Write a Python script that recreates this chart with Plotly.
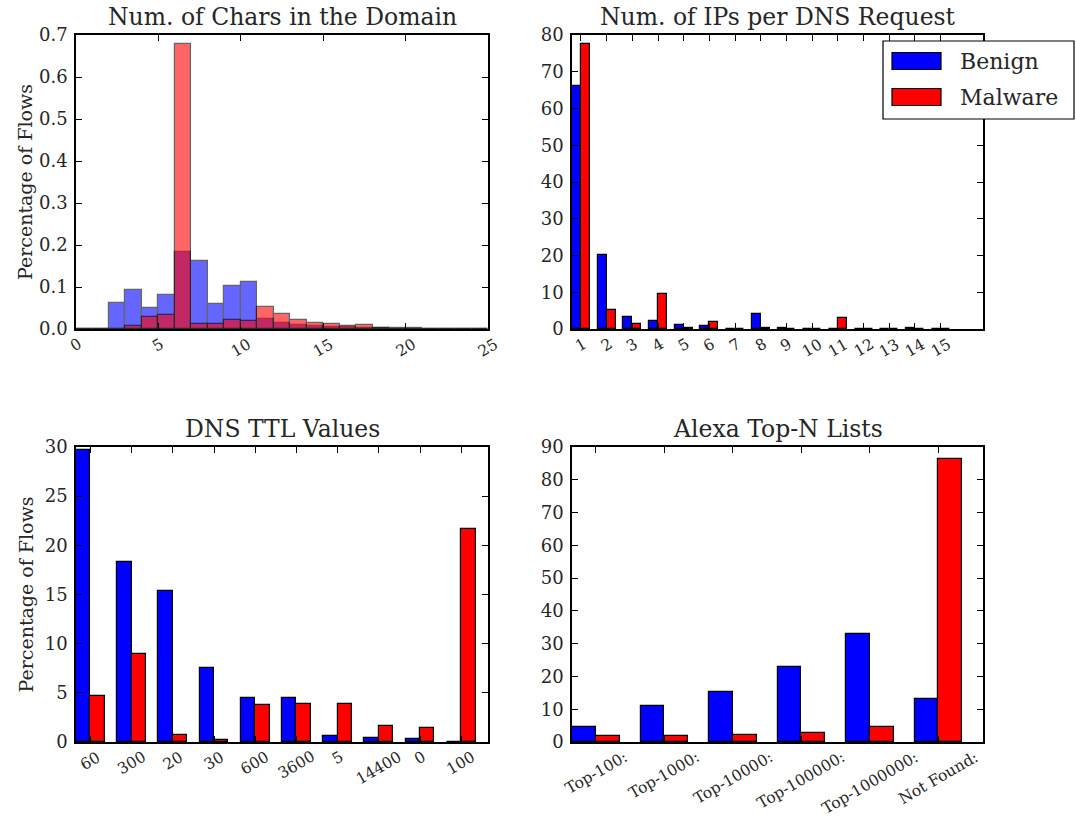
import plotly.graph_objects as go

# ---------------- data ----------------
# Panel 1: histogram of number of chars in the domain (bins of width 1, left edges)
char_bin_left = list(range(0, 25))
char_benign = [0, 0, 0.063, 0.094, 0.051, 0.081, 0.184, 0.163, 0.060, 0.102, 0.111, 0.025,
               0.015, 0.010, 0.007, 0.005, 0.004, 0.002, 0.002, 0.001, 0.001, 0.0005, 0.0005, 0.0003, 0]
char_malware = [0, 0, 0.001, 0.008, 0.029, 0.033, 0.678, 0.011, 0.012, 0.021, 0.019, 0.053,
                0.036, 0.021, 0.015, 0.011, 0.006, 0.010, 0.003, 0.002, 0.002, 0.001, 0.0005, 0.0003, 0]

# Panel 2: number of IPs per DNS request
ip_labels = [str(i) for i in range(1, 16)]
ip_benign = [66.1, 20.1, 3.3, 2.2, 1.1, 0.8, 0.1, 4.0, 0.3, 0.1, 0.1, 0.05, 0.05, 0.3, 0.05]
ip_malware = [77.5, 5.3, 1.4, 9.5, 0.2, 1.8, 0.1, 0.2, 0.1, 0.05, 2.9, 0.05, 0.05, 0.05, 0.05]

# Panel 3: DNS TTL values
ttl_labels = ["60", "300", "20", "30", "600", "3600", "5", "14400", "0", "100"]
ttl_benign = [29.7, 18.3, 15.4, 7.5, 4.5, 4.5, 0.6, 0.45, 0.3, 0.05]
ttl_malware = [4.7, 9.0, 0.75, 0.25, 3.8, 3.85, 3.85, 1.6, 1.4, 21.7]

# Panel 4: Alexa Top-N lists
alexa_labels = ["Top-100:", "Top-1000:", "Top-10000:", "Top-100000:", "Top-1000000:", "Not Found:"]
alexa_benign = [4.6, 10.9, 15.2, 22.8, 33.1, 13.1]
alexa_malware = [1.7, 1.9, 2.2, 2.85, 4.6, 86.3]

series_names = ["Benign", "Malware"]
series_colors = ["#0000ff", "#ff0000"]

# ---------------- layout helpers ----------------
W, H = 1076, 818
FONT = "DejaVu Serif"
TXT = "#262626"

def px_x(a, b):
    return [a / W, b / W]

def px_y(top, bottom):
    return [1 - bottom / H, 1 - top / H]

def pxx(a):
    return a / W

def pxy(a):
    return 1 - a / H

dom = {
    1: (px_x(76, 488), px_y(35, 329)),
    2: (px_x(572, 983), px_y(35, 329)),
    3: (px_x(76, 488), px_y(447, 742)),
    4: (px_x(572, 983), px_y(447, 742)),
}

fig = go.Figure()
BW = 0.35

# Panel 1 histogram
for vals, name, col in [(char_benign, series_names[0], series_colors[0]),
                        (char_malware, series_names[1], series_colors[1])]:
    fig.add_trace(go.Bar(x=char_bin_left, y=vals, width=1, offset=0, name=name,
                         marker=dict(color=col, line=dict(color="black", width=1.2)),
                         opacity=0.6, xaxis="x", yaxis="y", showlegend=False))

# Grouped bar panels
panels = [
    (2, ip_labels, ip_benign, ip_malware),
    (3, ttl_labels, ttl_benign, ttl_malware),
    (4, alexa_labels, alexa_benign, alexa_malware),
]
for k, labels, b, m in panels:
    idx = list(range(len(labels)))
    for vals, off, name, col in [(b, 0, series_names[0], series_colors[0]),
                                 (m, BW, series_names[1], series_colors[1])]:
        fig.add_trace(go.Bar(x=idx, y=vals, width=BW, offset=off, name=name,
                             marker=dict(color=col, line=dict(color="black", width=1.2)),
                             xaxis=f"x{k}", yaxis=f"y{k}", showlegend=False))

axis_common = dict(showline=True, linecolor="black", linewidth=1.5, mirror="ticks",
                   ticks="inside", ticklen=6, tickwidth=1.2, tickcolor="black",
                   showgrid=False, zeroline=False, automargin=False)
ytickfont = dict(family=FONT, size=18, color=TXT)
xtickfont = dict(family=FONT, size=15.5, color=TXT)

layout = dict(width=W, height=H, margin=dict(l=0, r=0, t=0, b=0, autoexpand=False),
              paper_bgcolor="white", plot_bgcolor="white", barmode="overlay",
              bargap=0, showlegend=False, font=dict(family=FONT))

x_cfg = {
    1: dict(range=[0, 25], tickvals=[0, 5, 10, 15, 20, 25], labels=["0", "5", "10", "15", "20", "25"]),
    2: dict(range=[0, 16], tickvals=[i + BW for i in range(15)], labels=ip_labels),
    3: dict(range=[0, 10], tickvals=[i + BW for i in range(10)], labels=ttl_labels),
    4: dict(range=[0, 6], tickvals=[i + BW for i in range(6)], labels=alexa_labels),
}
y_cfg = {
    1: dict(range=[0, 0.7], tickvals=[i / 10 for i in range(8)], ticktext=[f"{i/10:.1f}" for i in range(8)]),
    2: dict(range=[0, 80], tickvals=list(range(0, 81, 10)), ticktext=[str(v) for v in range(0, 81, 10)]),
    3: dict(range=[0, 30], tickvals=list(range(0, 31, 5)), ticktext=[str(v) for v in range(0, 31, 5)]),
    4: dict(range=[0, 90], tickvals=list(range(0, 91, 10)), ticktext=[str(v) for v in range(0, 91, 10)]),
}

annotations = []
for k in range(1, 5):
    xs = "" if k == 1 else str(k)
    xd, yd = dom[k]
    layout[f"xaxis{xs}"] = dict(axis_common, domain=xd, range=x_cfg[k]["range"],
                                tickvals=x_cfg[k]["tickvals"], showticklabels=False,
                                anchor=f"y{xs}")
    layout[f"yaxis{xs}"] = dict(axis_common, domain=yd, range=y_cfg[k]["range"],
                                tickvals=y_cfg[k]["tickvals"], ticktext=y_cfg[k]["ticktext"],
                                tickfont=ytickfont, ticklabelstandoff=3, anchor=f"x{xs}")
    # rotated x tick labels, centred on ticks
    for tv, lab in zip(x_cfg[k]["tickvals"], x_cfg[k]["labels"]):
        annotations.append(dict(x=tv, xref=f"x{xs}", y=0, yref=f"y{xs} domain",
                                text=lab, showarrow=False, textangle=-30,
                                xanchor="center", yanchor="top", yshift=-3,
                                font=xtickfont))

titles = ["Num. of Chars in the Domain", "Num. of IPs per DNS Request",
          "DNS TTL Values", "Alexa Top-N Lists"]
for k, t in zip(range(1, 5), titles):
    xs = "" if k == 1 else str(k)
    annotations.append(dict(x=0.5, xref=f"x{xs} domain", y=1, yref=f"y{xs} domain",
                            text=t, showarrow=False, xanchor="center", yanchor="bottom",
                            yshift=2, font=dict(family=FONT, size=23.5, color=TXT)))

for k in (1, 3):
    yd = dom[k][1]
    annotations.append(dict(x=pxx(25), xref="paper", y=(yd[0] + yd[1]) / 2, yref="paper",
                            text="Percentage of Flows", showarrow=False, textangle=-90,
                            xanchor="center", yanchor="middle",
                            font=dict(family=FONT, size=19, color=TXT)))

# custom legend (matplotlib style with wide patches)
shapes = [dict(type="rect", xref="paper", yref="paper",
               x0=pxx(883), x1=pxx(1074), y0=pxy(119), y1=pxy(41),
               line=dict(color="black", width=1.2), fillcolor="white", layer="above")]
for i, (name, col) in enumerate(zip(series_names, series_colors)):
    cy = 61 + i * 36
    shapes.append(dict(type="rect", xref="paper", yref="paper",
                       x0=pxx(892), x1=pxx(941), y0=pxy(cy + 8.5), y1=pxy(cy - 8.5),
                       line=dict(color="black", width=1.2), fillcolor=col, layer="above"))
    annotations.append(dict(x=pxx(958), xref="paper", y=pxy(cy), yref="paper",
                            text=name, showarrow=False, xanchor="left", yanchor="middle",
                            font=dict(family=FONT, size=22, color=TXT)))

layout["annotations"] = annotations
layout["shapes"] = shapes
fig.update_layout(**layout)
# remove the default 8px page margin so the 1076x818 figure fills the window exactly
fig.write_html("out.html", config={"displayModeBar": False},
               post_script="document.body.style.margin='0px';")
